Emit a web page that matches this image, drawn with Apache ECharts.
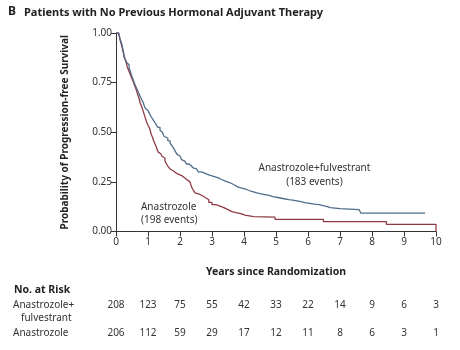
<!DOCTYPE html>
<html>
<head>
<meta charset="utf-8">
<script src="https://cdn.jsdelivr.net/npm/echarts@6/dist/echarts.min.js"></script>
<style>
  html, body { margin: 0; padding: 0; background: #fff; }
  #chart { width: 460px; height: 350px; }
</style>
</head>
<body>
<div id="chart"></div>
<script>
// Kaplan-Meier steps: [years, probability]
var comboCurve = [
  [0, 1.00], [0.08, 0.99], [0.12, 0.975], [0.15, 0.96], [0.18, 0.945], [0.2, 0.93],
  [0.23, 0.91], [0.25, 0.89], [0.28, 0.87], [0.3, 0.86], [0.34, 0.85], [0.38, 0.84],
  [0.41, 0.825], [0.44, 0.81], [0.47, 0.795], [0.5, 0.78], [0.53, 0.768], [0.56, 0.755],
  [0.59, 0.742], [0.62, 0.73], [0.66, 0.715], [0.7, 0.70], [0.74, 0.687], [0.77, 0.675],
  [0.81, 0.662], [0.85, 0.65], [0.88, 0.635], [0.92, 0.62], [0.96, 0.61], [1.0, 0.60],
  [1.06, 0.59], [1.1, 0.578], [1.15, 0.565], [1.2, 0.553], [1.25, 0.54], [1.31, 0.525],
  [1.375, 0.51], [1.41, 0.50], [1.45, 0.49], [1.5, 0.48], [1.55, 0.47], [1.62, 0.457],
  [1.69, 0.445], [1.75, 0.432], [1.8, 0.42], [1.85, 0.405], [1.9, 0.39], [1.95, 0.38],
  [2.0, 0.37], [2.05, 0.362], [2.1, 0.355], [2.15, 0.348], [2.2, 0.34], [2.28, 0.332],
  [2.35, 0.325], [2.41, 0.32], [2.47, 0.315], [2.52, 0.307], [2.57, 0.30], [2.66, 0.295],
  [2.75, 0.29], [2.82, 0.285], [2.9, 0.28], [3.0, 0.275], [3.1, 0.27], [3.2, 0.262],
  [3.3, 0.255], [3.4, 0.249], [3.5, 0.243], [3.6, 0.234], [3.7, 0.225], [3.8, 0.22],
  [3.9, 0.215], [4.03, 0.209], [4.12, 0.204], [4.2, 0.20], [4.3, 0.195], [4.4, 0.19],
  [4.53, 0.186], [4.66, 0.182], [4.78, 0.176], [4.9, 0.17], [5.1, 0.165], [5.25, 0.161],
  [5.4, 0.158], [5.52, 0.154], [5.65, 0.15], [5.78, 0.146], [5.9, 0.142], [6.05, 0.138],
  [6.2, 0.135], [6.35, 0.13], [6.48, 0.125], [6.6, 0.12], [6.7, 0.118], [6.85, 0.115],
  [7.0, 0.113], [7.3, 0.11], [7.6, 0.108], [7.65, 0.093], [9.66, 0.093]
]
var anaCurve = [
  [0, 1.00], [0.08, 0.99], [0.12, 0.97], [0.15, 0.95], [0.18, 0.935], [0.2, 0.92],
  [0.23, 0.90], [0.25, 0.88], [0.28, 0.87], [0.3, 0.86], [0.33, 0.845], [0.35, 0.83],
  [0.4, 0.81], [0.45, 0.79], [0.5, 0.77], [0.55, 0.75], [0.58, 0.735], [0.62, 0.72],
  [0.66, 0.70], [0.7, 0.68], [0.73, 0.665], [0.75, 0.65], [0.78, 0.64], [0.8, 0.63],
  [0.84, 0.61], [0.88, 0.59], [0.92, 0.57], [0.96, 0.55], [1.0, 0.535], [1.05, 0.52],
  [1.1, 0.49], [1.14, 0.475], [1.17, 0.46], [1.21, 0.445], [1.25, 0.43], [1.28, 0.415],
  [1.32, 0.40], [1.36, 0.392], [1.4, 0.385], [1.44, 0.378], [1.48, 0.37], [1.53, 0.355],
  [1.58, 0.34], [1.63, 0.327], [1.69, 0.315], [1.75, 0.305], [1.8, 0.295], [1.85, 0.292],
  [1.9, 0.29], [1.95, 0.285], [2.0, 0.28], [2.07, 0.27], [2.15, 0.26], [2.23, 0.25],
  [2.31, 0.24], [2.36, 0.225], [2.41, 0.21], [2.47, 0.195], [2.53, 0.188], [2.6, 0.18],
  [2.7, 0.17], [2.8, 0.16], [2.9, 0.147], [3.0, 0.135], [3.12, 0.128], [3.25, 0.12],
  [3.37, 0.11], [3.5, 0.10], [3.62, 0.095], [3.75, 0.09], [3.9, 0.082], [4.03, 0.075],
  [4.3, 0.072], [4.97, 0.061], [6.48, 0.05], [8.45, 0.036], [10.0, 0.0]
]
var riskYears = [0, 1, 2, 3, 4, 5, 6, 7, 8, 9, 10]
var riskCombo = [208, 123, 75, 55, 42, 33, 22, 14, 9, 6, 3]
var riskAna = [206, 112, 59, 29, 17, 12, 11, 8, 6, 3, 1]

var font = 'Noto Sans'
var chart = echarts.init(document.getElementById('chart'), null, { renderer: 'canvas' })

chart.setOption({
  backgroundColor: '#fff',
  animation: false,
  grid: { left: 116, right: 24, top: 33, bottom: 118.5 },
  xAxis: {
    type: 'value',
    min: 0,
    max: 10,
    interval: 1,
    name: 'Years since Randomization',
    nameLocation: 'middle',
    nameGap: 35,
    nameTextStyle: { fontFamily: font, fontWeight: 'bold', fontSize: 10.5, color: '#222' },
    axisLine: { lineStyle: { color: '#333', width: 1 } },
    axisTick: { length: 5, lineStyle: { color: '#333' } },
    axisLabel: { margin: 6, fontFamily: font, fontSize: 10, color: '#333' },
    splitLine: { show: false }
  },
  yAxis: {
    type: 'value',
    min: 0,
    max: 1,
    interval: 0.25,
    name: 'Probability of Progression-free Survival',
    nameLocation: 'middle',
    nameGap: 46,
    nameTextStyle: { fontFamily: font, fontWeight: 'bold', fontSize: 10, color: '#222' },
    axisLine: { show: true, lineStyle: { color: '#333', width: 1 } },
    axisTick: { show: true, length: 5, lineStyle: { color: '#333' } },
    axisLabel: {
      margin: 4,
      fontFamily: font,
      fontSize: 10,
      color: '#333',
      formatter: function(v) { return v.toFixed(2) }
    },
    splitLine: { show: false }
  },
  series: [
    {
      name: 'Anastrozole',
      type: 'line',
      step: 'end',
      showSymbol: false,
      data: anaCurve,
      lineStyle: { color: '#8e3a44', width: 1.3 },
      z: 2
    },
    {
      name: 'Anastrozole+fulvestrant',
      type: 'line',
      step: 'end',
      showSymbol: false,
      data: comboCurve,
      lineStyle: { color: '#4f6d8a', width: 1.3 },
      z: 3
    }
  ]
})

// text placed through the axis scale
function px(x, y) {
  return chart.convertToPixel({ xAxisIndex: 0, yAxisIndex: 0 }, [x, y])
}
var txt = { fontFamily: font, fontSize: 10, fill: '#333' }
var elements = [
  { type: 'text', left: 8, top: 6, style: { text: 'B', fontFamily: font, fontWeight: 'bold', fontSize: 12, fill: '#222' } },
  { type: 'text', left: 24, top: 7, style: { text: 'Patients with No Previous Hormonal Adjuvant Therapy', fontFamily: font, fontWeight: 'bold', fontSize: 11, fill: '#222' } },
  { type: 'text', x: px(6.2, 0)[0], y: px(0, 0.32)[1], style: Object.assign({ text: 'Anastrozole+fulvestrant', align: 'center', verticalAlign: 'middle' }, txt) },
  { type: 'text', x: px(6.2, 0)[0], y: px(0, 0.25)[1], style: Object.assign({ text: '(183 events)', align: 'center', verticalAlign: 'middle' }, txt) },
  { type: 'text', x: px(0.78, 0)[0], y: px(0, 0.125)[1], style: Object.assign({ text: 'Anastrozole', align: 'left', verticalAlign: 'middle' }, txt) },
  { type: 'text', x: px(0.78, 0)[0], y: px(0, 0.058)[1], style: Object.assign({ text: '(198 events)', align: 'left', verticalAlign: 'middle' }, txt) },
  { type: 'text', x: 14, y: 290, style: { text: 'No. at Risk', fontFamily: font, fontWeight: 'bold', fontSize: 10.5, fill: '#222', verticalAlign: 'middle' } },
  { type: 'text', x: 13, y: 305, style: Object.assign({ text: 'Anastrozole+', verticalAlign: 'middle' }, txt) },
  { type: 'text', x: 21, y: 318, style: Object.assign({ text: 'fulvestrant', verticalAlign: 'middle' }, txt) },
  { type: 'text', x: 13, y: 333, style: Object.assign({ text: 'Anastrozole', verticalAlign: 'middle' }, txt) }
]
riskYears.forEach(function(t, i) {
  var x = px(t, 0)[0]
  elements.push({ type: 'text', x: x, y: 305, style: Object.assign({ text: String(riskCombo[i]), align: 'center', verticalAlign: 'middle' }, txt) })
  elements.push({ type: 'text', x: x, y: 333, style: Object.assign({ text: String(riskAna[i]), align: 'center', verticalAlign: 'middle' }, txt) })
})
chart.setOption({ graphic: { elements: elements } })
</script>
</body>
</html>
